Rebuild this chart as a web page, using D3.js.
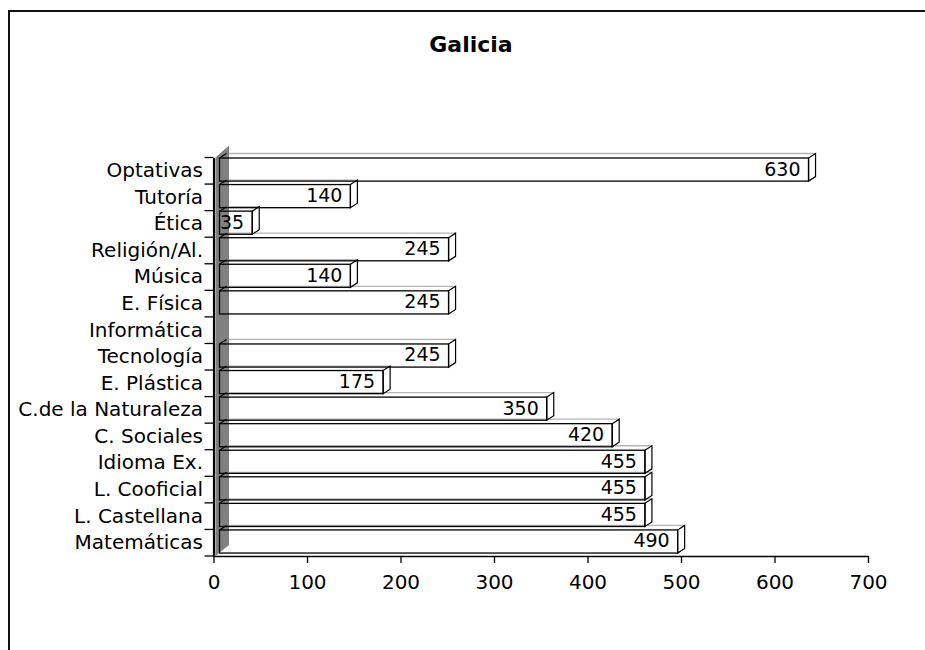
<!DOCTYPE html>
<html>
<head>
<meta charset="utf-8">
<script src="https://cdn.jsdelivr.net/npm/d3@7"></script>
<style>
  body { margin: 0; background: #fff; }
  svg { display: block; font-family: 'DejaVu Sans', Verdana, sans-serif; }
</style>
</head>
<body>
<div id="chart"></div>
<script>
// data, listed from the bottom bar up to the top one
const categories = [
  'Matemáticas', 'L. Castellana', 'L. Cooficial', 'Idioma Ex.', 'C. Sociales',
  'C.de la Naturaleza', 'E. Plástica', 'Tecnología', 'Informática', 'E. Física',
  'Música', 'Religión/Al.', 'Ética', 'Tutoría', 'Optativas'
]
const values = [490, 455, 455, 455, 420, 350, 175, 245, null, 245, 140, 245, 35, 140, 630]
const xTicks = [0, 100, 200, 300, 400, 500, 600, 700]
const title = 'Galicia'

const width = 925
const height = 650

// 3d look
const depthX = 7
const depthY = -4.5
const barShift = 6
const wallColor = '#808080'
const backEdgeColor = '#b4b4b4'

const data = categories.map((c, i) => ({ category: c, value: values[i] }))
const barData = data.filter(d => d.value !== null)

const svg = d3
  .select('#chart')
  .append('svg')
  .attr('width', width)
  .attr('height', height)

// outer frame
svg
  .append('rect')
  .attr('x', 9)
  .attr('y', 11)
  .attr('width', width + 20)
  .attr('height', height + 20)
  .attr('fill', 'none')
  .attr('stroke', '#111')
  .attr('stroke-width', 2)

svg
  .append('text')
  .attr('x', 471)
  .attr('y', 52)
  .attr('text-anchor', 'middle')
  .style('font-weight', 'bold')
  .style('font-size', '22px')
  .text(title)

// scales
const x = d3.scaleLinear().domain([0, 700]).range([213.5, 868])
const y = d3.scaleBand().domain(categories).range([556, 157.5])
const barHeight = y.bandwidth() * 0.87

const x0 = x(0)
const [yBottom, yTop] = y.range()

function geom(d) {
  const xl = x(0) + barShift
  const xr = x(d.value) + barShift
  const yt = y(d.category) + 0.5
  const yb = yt + barHeight
  return { xl, xr, yt, yb }
}

const topFace = g =>
  [[g.xl, g.yt], [g.xr, g.yt], [g.xr + depthX, g.yt + depthY], [g.xl + depthX, g.yt + depthY]].join(' ')
const endFace = g =>
  [[g.xr, g.yt], [g.xr + depthX, g.yt + depthY], [g.xr + depthX, g.yb + depthY], [g.xr, g.yb]].join(' ')

// bar fills
const fills = svg.append('g')
fills
  .selectAll('polygon.top')
  .data(barData)
  .join('polygon')
  .attr('class', 'top')
  .attr('points', d => topFace(geom(d)))
  .attr('fill', '#fff')
fills
  .selectAll('rect')
  .data(barData)
  .join('rect')
  .attr('x', d => geom(d).xl)
  .attr('y', d => geom(d).yt)
  .attr('width', d => geom(d).xr - geom(d).xl)
  .attr('height', barHeight)
  .attr('fill', '#fff')
fills
  .selectAll('polygon.end')
  .data(barData)
  .join('polygon')
  .attr('class', 'end')
  .attr('points', d => endFace(geom(d)))
  .attr('fill', '#fff')

// left wall
svg
  .append('polygon')
  .attr('points', [[x0 + 2, yTop], [x0 + 15.5, yTop - 12], [x0 + 15.5, yBottom - 11], [x0 + 2, yBottom]].join(' '))
  .attr('fill', wallColor)

// bar outlines: back edges first, then the black ones
const outlines = svg.append('g')
outlines
  .selectAll('line.back')
  .data(barData)
  .join('line')
  .attr('class', 'back')
  .attr('x1', d => Math.max(geom(d).xl + depthX, x0 + 15.5))
  .attr('x2', d => geom(d).xr + depthX)
  .attr('y1', d => geom(d).yt + depthY)
  .attr('y2', d => geom(d).yt + depthY)
  .attr('stroke', backEdgeColor)
  .attr('stroke-width', 1.3)
outlines
  .selectAll('rect')
  .data(barData)
  .join('rect')
  .attr('x', d => geom(d).xl)
  .attr('y', d => geom(d).yt)
  .attr('width', d => geom(d).xr - geom(d).xl)
  .attr('height', barHeight)
  .attr('fill', 'none')
  .attr('stroke', '#000')
  .attr('stroke-width', 1.3)
outlines
  .selectAll('line.side')
  .data(barData)
  .join('line')
  .attr('class', 'side')
  .attr('x1', d => geom(d).xl)
  .attr('y1', d => geom(d).yt)
  .attr('x2', d => geom(d).xl + depthX)
  .attr('y2', d => geom(d).yt + depthY)
  .attr('stroke', '#000')
  .attr('stroke-width', 1.2)
outlines
  .selectAll('polygon')
  .data(barData)
  .join('polygon')
  .attr('points', d => endFace(geom(d)))
  .attr('fill', 'none')
  .attr('stroke', '#000')
  .attr('stroke-width', 1.2)

// value labels
svg
  .append('g')
  .selectAll('text')
  .data(barData)
  .join('text')
  .attr('x', d => geom(d).xr - 8)
  .attr('y', d => geom(d).yt + 17.5)
  .attr('text-anchor', 'end')
  .style('font-size', '19px')
  .text(d => d.value)

// x axis
const xAxis = svg
  .append('g')
  .attr('transform', `translate(0,${yBottom})`)
  .call(d3.axisBottom(x).tickValues(xTicks).tickSize(7).tickSizeOuter(0).tickPadding(12))
xAxis.select('.domain').attr('stroke', '#000').attr('stroke-width', 1.3)
xAxis.selectAll('.tick line').attr('stroke', '#000').attr('stroke-width', 1.3)
xAxis.selectAll('text').style('font-size', '20px').attr('fill', '#000')
xAxis.attr('font-family', null)

// y axis: labels from the axis, ticks on band edges
const yAxis = svg
  .append('g')
  .attr('transform', `translate(${x0},0)`)
  .call(d3.axisLeft(y).tickSize(0).tickPadding(10.5))
yAxis.select('.domain').attr('stroke', '#000').attr('stroke-width', 2.2)
yAxis.selectAll('text').style('font-size', '20px').attr('fill', '#000')
yAxis.attr('font-family', null)

const edges = categories.map(c => y(c)).concat([yBottom])
yAxis
  .selectAll('line.edge')
  .data(edges)
  .join('line')
  .attr('class', 'edge')
  .attr('x1', -9)
  .attr('x2', 0)
  .attr('y1', d => d)
  .attr('y2', d => d)
  .attr('stroke', '#000')
  .attr('stroke-width', 1.3)
</script>
</body>
</html>
